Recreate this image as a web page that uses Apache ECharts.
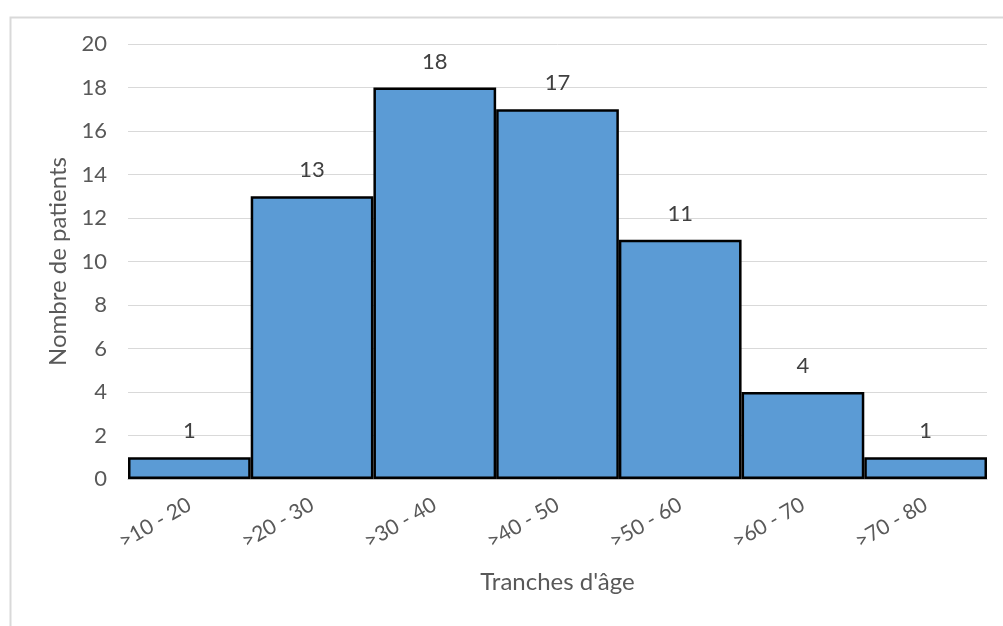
<!DOCTYPE html>
<html>
<head>
<meta charset="utf-8">
<script src="https://cdn.jsdelivr.net/npm/echarts@6/dist/echarts.min.js"></script>
<style>
html,body{margin:0;padding:0;background:#fff;}
#chart{width:1003px;height:626px;}
</style>
</head>
<body>
<div id="chart"></div>
<script>
const categories = ['>10 - 20', '>20 - 30', '>30 - 40', '>40 - 50', '>50 - 60', '>60 - 70', '>70 - 80'];
const patients = [1, 13, 18, 17, 11, 4, 1];
const yAxisTitle = 'Nombre de patients';
const xAxisTitle = "Tranches d'âge";

const FONT = 'Lato, "Open Sans", sans-serif';
const chart = echarts.init(document.getElementById('chart'), null, {renderer: 'canvas'});
chart.setOption({
  animation: false,
  backgroundColor: '#fff',
  graphic: [{
    type: 'rect', left: 8, top: 15, z: -10,
    shape: {x: 0, y: 0, width: 1100, height: 700},
    style: {fill: 'none', stroke: '#d9d9d9', lineWidth: 2}
  }],
  grid: {left: 128, right: 16, top: 44, bottom: 147, containLabel: false},
  xAxis: {
    type: 'category',
    data: categories,
    name: xAxisTitle,
    nameLocation: 'middle',
    nameGap: 91,
    nameTextStyle: {fontFamily: FONT, fontSize: 24, color: '#595959'},
    axisLine: {lineStyle: {color: '#bfbfbf', width: 1}},
    axisTick: {show: false},
    axisLabel: {rotate: 30, margin: 24, fontFamily: FONT, fontSize: 21, color: '#595959'}
  },
  yAxis: {
    type: 'value',
    min: 0, max: 20, interval: 2,
    name: yAxisTitle,
    nameLocation: 'middle',
    nameGap: 56,
    nameTextStyle: {fontFamily: FONT, fontSize: 24, color: '#595959'},
    axisLine: {show: false},
    axisTick: {show: false},
    axisLabel: {margin: 21, fontFamily: FONT, fontSize: 22, color: '#595959'},
    splitLine: {lineStyle: {color: '#d9d9d9', width: 1}}
  },
  series: [{
    type: 'bar',
    data: patients,
    barCategoryGap: '0%',
    itemStyle: {color: '#5b9bd5', borderColor: '#000', borderWidth: 2.5},
    label: {show: true, position: 'top', distance: 15, fontFamily: FONT, fontSize: 22, color: '#404040'}
  }]
});
</script>
</body>
</html>
